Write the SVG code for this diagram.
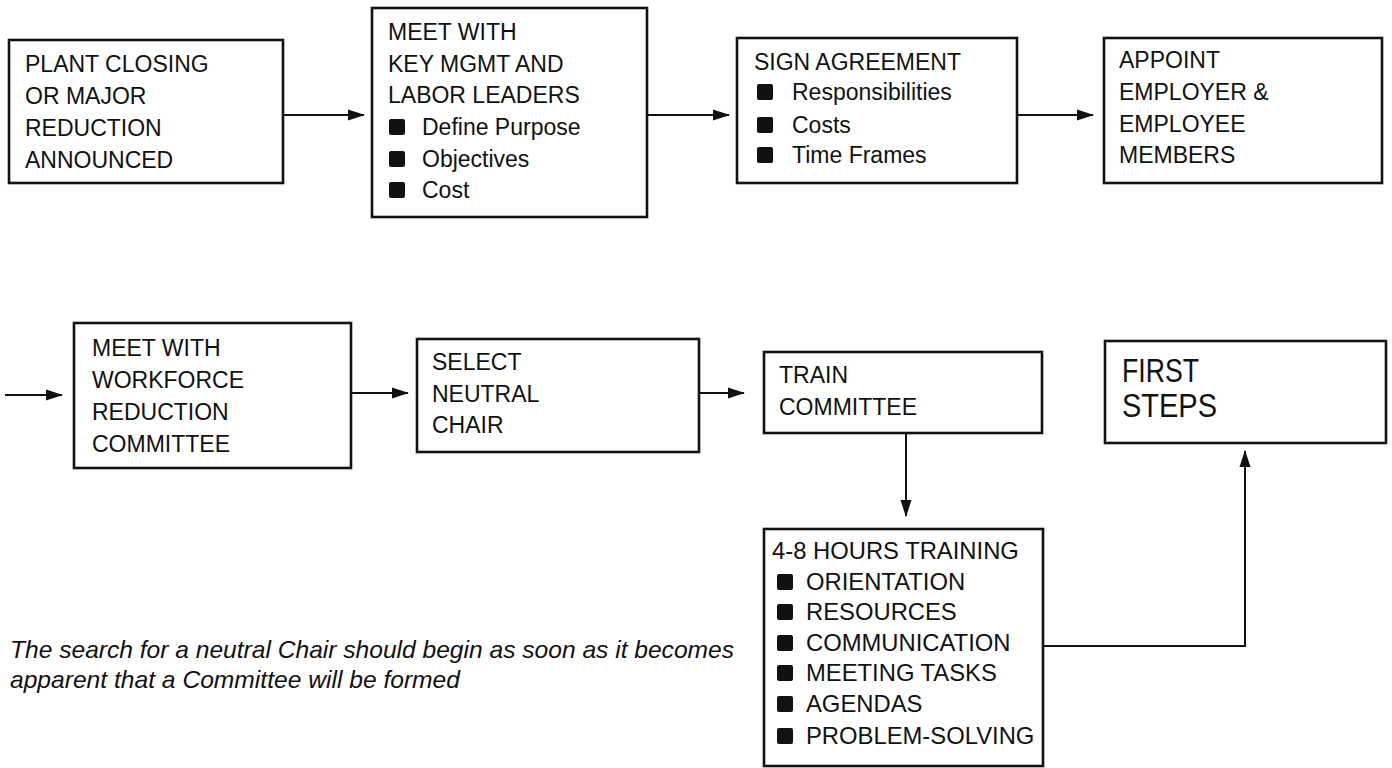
<svg xmlns="http://www.w3.org/2000/svg" width="1392" height="768" viewBox="0 0 1392 768">
<style>
.box{fill:#fff;stroke:#111;stroke-width:2.6}
.t{font-family:"Liberation Sans",Arial,sans-serif;font-size:23px;fill:#111}
.t2{font-family:"Liberation Sans",Arial,sans-serif;font-size:23.8px;fill:#111}
.big{font-family:"Liberation Sans",Arial,sans-serif;font-size:33px;fill:#111}
.note{font-family:"Liberation Sans",Arial,sans-serif;font-size:24px;font-style:italic;fill:#111}
.b{fill:#111}
.c{fill:none;stroke:#111;stroke-width:2}
</style>
<defs>
<marker id="ah" markerWidth="17" markerHeight="13" refX="16" refY="6.5" orient="auto" markerUnits="userSpaceOnUse">
<path d="M0,1 L17,6.5 L0,12 Z" fill="#111"/>
</marker>
</defs>
<rect width="1392" height="768" fill="#fff"/>
<g id="connectors">
<path class="c" d="M283,115 H364" marker-end="url(#ah)"/>
<path class="c" d="M647,115 H729" marker-end="url(#ah)"/>
<path class="c" d="M1017,115 H1093" marker-end="url(#ah)"/>
<path class="c" d="M5,395 H62" marker-end="url(#ah)"/>
<path class="c" d="M351,393 H408" marker-end="url(#ah)"/>
<path class="c" d="M699,393 H744" marker-end="url(#ah)"/>
<path class="c" d="M906,433 V516" marker-end="url(#ah)"/>
<path class="c" d="M1043,646 H1245 V451" marker-end="url(#ah)"/>
</g>
<g id="n1">
<rect class="box" x="9" y="40" width="274" height="143"/>
<text class="t" x="25" y="72">PLANT CLOSING</text>
<text class="t" x="25" y="104">OR MAJOR</text>
<text class="t" x="25" y="136">REDUCTION</text>
<text class="t" x="25" y="168">ANNOUNCED</text>
</g>
<g id="n2">
<rect class="box" x="372" y="8" width="275" height="209"/>
<text class="t" x="388" y="40">MEET WITH</text>
<text class="t" x="388" y="72">KEY MGMT AND</text>
<text class="t" x="388" y="103">LABOR LEADERS</text>
<rect class="b" x="389" y="119" width="16" height="16" rx="2"/>
<text class="t" x="422" y="135">Define Purpose</text>
<rect class="b" x="389" y="151" width="16" height="16" rx="2"/>
<text class="t" x="422" y="167">Objectives</text>
<rect class="b" x="389" y="182" width="16" height="16" rx="2"/>
<text class="t" x="422" y="198">Cost</text>
</g>
<g id="n3">
<rect class="box" x="737" y="38" width="280" height="145"/>
<text class="t" x="754" y="70">SIGN AGREEMENT</text>
<rect class="b" x="757" y="84" width="16" height="16" rx="2"/>
<text class="t" x="792" y="100">Responsibilities</text>
<rect class="b" x="757" y="117" width="16" height="16" rx="2"/>
<text class="t" x="792" y="133">Costs</text>
<rect class="b" x="757" y="147" width="16" height="16" rx="2"/>
<text class="t" x="792" y="163">Time Frames</text>
</g>
<g id="n4">
<rect class="box" x="1104" y="38" width="278" height="145"/>
<text class="t" x="1119" y="68">APPOINT</text>
<text class="t" x="1119" y="100">EMPLOYER &amp;</text>
<text class="t" x="1119" y="132">EMPLOYEE</text>
<text class="t" x="1119" y="163">MEMBERS</text>
</g>
<g id="n5">
<rect class="box" x="74" y="323" width="277" height="145"/>
<text class="t" x="92" y="356">MEET WITH</text>
<text class="t" x="92" y="388">WORKFORCE</text>
<text class="t" x="92" y="420">REDUCTION</text>
<text class="t" x="92" y="452">COMMITTEE</text>
</g>
<g id="n6">
<rect class="box" x="417" y="339" width="282" height="113"/>
<text class="t" x="432" y="370">SELECT</text>
<text class="t" x="432" y="402">NEUTRAL</text>
<text class="t" x="432" y="433">CHAIR</text>
</g>
<g id="n7">
<rect class="box" x="764" y="352" width="278" height="81"/>
<text class="t" x="779" y="383">TRAIN</text>
<text class="t" x="779" y="415">COMMITTEE</text>
</g>
<g id="n8">
<rect class="box" x="1105" y="341" width="281" height="102"/>
<text class="big" x="1122" y="382" textLength="77" lengthAdjust="spacingAndGlyphs">FIRST</text>
<text class="big" x="1122" y="417" textLength="95" lengthAdjust="spacingAndGlyphs">STEPS</text>
</g>
<g id="n9">
<rect class="box" x="764" y="529" width="279" height="237"/>
<text class="t2" x="772" y="559">4-8 HOURS TRAINING</text>
<rect class="b" x="777" y="574" width="16" height="16" rx="2"/>
<text class="t2" x="806" y="590">ORIENTATION</text>
<rect class="b" x="777" y="604" width="16" height="16" rx="2"/>
<text class="t2" x="806" y="620">RESOURCES</text>
<rect class="b" x="777" y="635" width="16" height="16" rx="2"/>
<text class="t2" x="806" y="651">COMMUNICATION</text>
<rect class="b" x="777" y="665" width="16" height="16" rx="2"/>
<text class="t2" x="806" y="681">MEETING TASKS</text>
<rect class="b" x="777" y="696" width="16" height="16" rx="2"/>
<text class="t2" x="806" y="712">AGENDAS</text>
<rect class="b" x="777" y="728" width="16" height="16" rx="2"/>
<text class="t2" x="806" y="744">PROBLEM-SOLVING</text>
</g>
<g id="note">
<text class="note" x="10" y="658" textLength="724" lengthAdjust="spacingAndGlyphs">The search for a neutral Chair should begin as soon as it becomes</text>
<text class="note" x="10" y="688" textLength="450" lengthAdjust="spacingAndGlyphs">apparent that a Committee will be formed</text>
</g>
</svg>
